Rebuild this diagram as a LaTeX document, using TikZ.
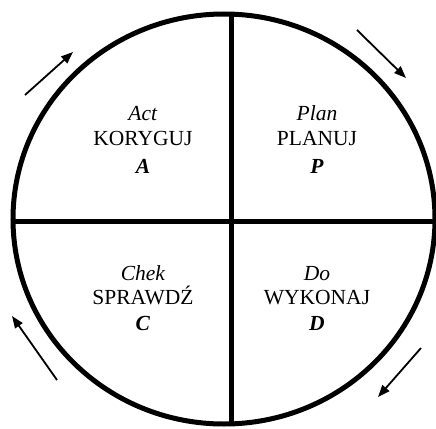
\documentclass[tikz,border=0pt]{standalone}
\usepackage{fontspec}
\setmainfont{Liberation Serif}
\usetikzlibrary{arrows.meta}

\begin{document}
\begin{tikzpicture}[x=1pt,y=-1pt,
    rim/.style={line width=5pt},
    cross/.style={line width=5pt},
    quad/.style={align=center,font=\fontsize{21.5}{24.5}\selectfont,inner sep=0pt},
    cyc/.style={-{Triangle[length=12pt,width=9pt]},line width=1.8pt,shorten >=0pt}]

    \useasboundingbox (0,0) rectangle (436,428);

    % PDCA wheel
    \coordinate (c) at (224,219);
    \coordinate (top) at (231,14);
    \coordinate (bot) at (231,424);
    \coordinate (lft) at (13,221);
    \coordinate (rgt) at (436,221);
    \draw[rim] (c) ellipse [x radius=211pt,y radius=205pt];
    \draw[cross] (top) -- (bot);
    \draw[cross] (lft) -- (rgt);

    \node[quad] (act) at (143,140) {\textit{Act}\\KORYGUJ\\[4pt]\textbf{\textit{A}}};
    \node[quad] (plan) at (317,140) {\textit{Plan}\\PLANUJ\\[4pt]\textbf{\textit{P}}};
    \node[quad] (chek) at (143,298) {\textit{Chek}\\SPRAWDŹ\\[1pt]\textbf{\textit{C}}};
    \node[quad] (do) at (317,298) {\textit{Do}\\WYKONAJ\\[1pt]\textbf{\textit{D}}};

    % direction of the cycle
    \coordinate (a1s) at (25,95);   \coordinate (a1e) at (73,52);
    \coordinate (a2s) at (357,30);  \coordinate (a2e) at (406,78);
    \coordinate (a3s) at (421,348); \coordinate (a3e) at (378,397);
    \coordinate (a4s) at (57,380);  \coordinate (a4e) at (12,316);
    \foreach \i in {1,2,3,4}
      \draw[cyc] (a\i s) -- (a\i e);
\end{tikzpicture}
\end{document}
